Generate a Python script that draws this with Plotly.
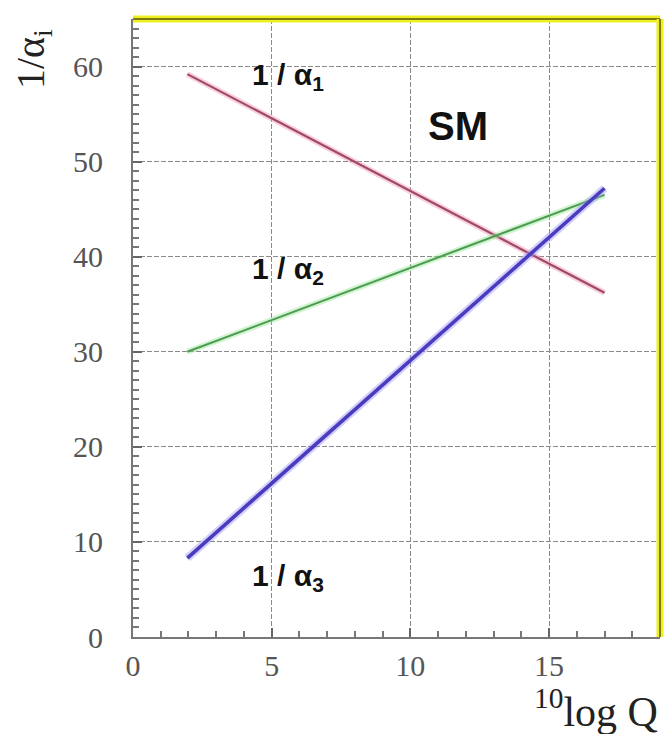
import plotly.graph_objects as go

# Running of the inverse gauge couplings in the Standard Model
log_q = [1.96, 17.0]
inv_alpha1 = [59.2, 36.2]
inv_alpha2 = [30.0, 46.5]
inv_alpha3 = [8.3, 47.2]

x_ticks = [0, 5, 10, 15]
y_ticks = [0, 10, 20, 30, 40, 50, 60]

series = [
    (inv_alpha1, "#a04868", "rgba(240,150,180,0.45)", 2.2, 6),
    (inv_alpha2, "#4f9a52", "rgba(150,230,150,0.45)", 2.0, 6),
    (inv_alpha3, "#4a3cc0", "rgba(160,150,240,0.45)", 3.6, 8),
]

fig = go.Figure()
for vals, col, halo, w, hw in series:
    fig.add_trace(go.Scatter(x=log_q, y=vals, mode="lines",
                             line=dict(color=halo, width=hw), hoverinfo="skip"))
    fig.add_trace(go.Scatter(x=log_q, y=vals, mode="lines",
                             line=dict(color=col, width=w)))

tick_font = dict(family="Liberation Serif", size=30, color="#555")
axis_common = dict(
    showline=True, linecolor="#777", linewidth=2, mirror=False,
    ticks="inside", ticklen=9, tickwidth=2, tickcolor="#666",
    showgrid=True, gridcolor="#8a8a8a", gridwidth=1, griddash="5px,2px",
    zeroline=False, tickfont=tick_font,
    minor=dict(ticks="inside", ticklen=6, tickwidth=2, tickcolor="#777",
               dtick=1, showgrid=False),
)

fig.update_xaxes(range=[0, 19], tickvals=x_ticks, ticklabelstandoff=1, **axis_common)
fig.update_yaxes(range=[0, 65], tickvals=y_ticks, ticklabelstandoff=22, **axis_common)

label_font = dict(family="Liberation Sans", size=30, color="#111")
fig.add_annotation(x=5.6, y=59.0, text="<b>1 / α<sub>1</sub></b>", showarrow=False, font=label_font)
fig.add_annotation(x=5.6, y=38.5, text="<b>1 / α<sub>2</sub></b>", showarrow=False, font=label_font)
fig.add_annotation(x=5.6, y=6.3, text="<b>1 / α<sub>3</sub></b>", showarrow=False, font=label_font)
fig.add_annotation(x=11.7, y=53.7, text="<b>SM</b>", showarrow=False,
                   font=dict(family="Liberation Sans", size=40, color="#111"))

fig.add_annotation(xref="paper", yref="paper", x=-0.19, y=0.935, xanchor="center",
                   yanchor="middle", text="1/α<sub>i</sub>", textangle=-90,
                   showarrow=False,
                   font=dict(family="Liberation Serif", size=40, color="#222"))
fig.add_annotation(xref="paper", yref="paper", x=1.0, y=-0.115, xanchor="right",
                   yanchor="middle", text="<sup>10</sup>log Q",
                   showarrow=False,
                   font=dict(family="Liberation Serif", size=42, color="#222"))

# Frame on the top and right edges of the plot area
for x0, y0, x1, y1 in [(0, 1, 1, 1), (1, 0, 1, 1)]:
    fig.add_shape(type="line", xref="paper", yref="paper", x0=x0, y0=y0, x1=x1, y1=y1,
                  line=dict(color="#eeee20", width=7))
    fig.add_shape(type="line", xref="paper", yref="paper", x0=x0, y0=y0, x1=x1, y1=y1,
                  line=dict(color="#7c7c10", width=2))

fig.update_layout(
    width=666, height=734,
    margin=dict(l=133, r=6, t=19, b=97),
    paper_bgcolor="white", plot_bgcolor="white",
    showlegend=False,
)

fig.write_html("out.html")
